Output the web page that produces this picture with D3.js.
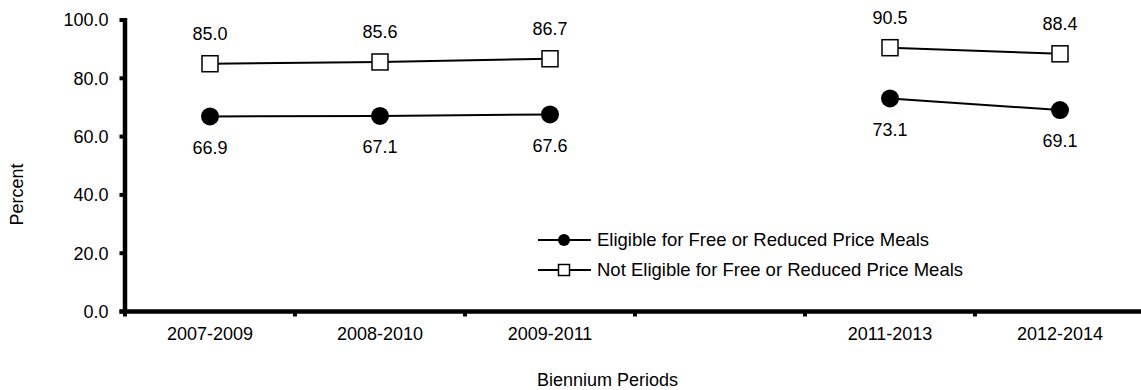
<!DOCTYPE html>
<html><head><meta charset="utf-8">
<script src="https://cdn.jsdelivr.net/npm/d3@7"></script>
<style>
body{margin:0;background:#fff;}
text{font-family:"Liberation Sans",Arial,sans-serif;fill:#000;}
</style></head>
<body><svg id="c" width="1141" height="390"></svg>
<script>
const categories = ["2007-2009","2008-2010","2009-2011","2010-2012","2011-2013","2012-2014"];
const eligible = [66.9, 67.1, 67.6, null, 73.1, 69.1];
const notEligible = [85.0, 85.6, 86.7, null, 90.5, 88.4];
const yTicks = [0, 20, 40, 60, 80, 100];
const seriesNames = ["Eligible for Free or Reduced Price Meals","Not Eligible for Free or Reduced Price Meals"];
const xLabels = ["2007-2009","2008-2010","2009-2011","","2011-2013","2012-2014"];

const svg = d3.select("#c");
const x = d3.scaleBand().domain(categories).range([125,1145]);
const y = d3.scaleLinear().domain([0,100]).range([311.5,20]);
const cx = c => x(c) + x.bandwidth()/2;

// y axis
svg.append("line").attr("x1",125).attr("x2",125).attr("y1",y(100)-2).attr("y2",y(0)+2).attr("stroke","#000").attr("stroke-width",4.5);
yTicks.forEach(t=>{
  svg.append("line").attr("x1",119.5).attr("x2",125).attr("y1",y(t)).attr("y2",y(t)).attr("stroke","#000").attr("stroke-width",4);
  svg.append("text").attr("x",108.5).attr("y",y(t)).attr("dy","0.35em").attr("text-anchor","end").style("font-size","18px").text(d3.format(".1f")(t));
});
// x axis
svg.append("line").attr("x1",119.5).attr("x2",1141).attr("y1",y(0)).attr("y2",y(0)).attr("stroke","#000").attr("stroke-width",4.5);
categories.forEach((c,i)=>{
  svg.append("line").attr("x1",x(c)).attr("x2",x(c)).attr("y1",y(0)).attr("y2",y(0)+5).attr("stroke","#000").attr("stroke-width",4);
  svg.append("text").attr("x",cx(c)).attr("y",340).attr("text-anchor","middle").style("font-size","18px").text(xLabels[i]);
});

svg.append("text").attr("transform","translate(23,194.5) rotate(-90)").attr("text-anchor","middle").style("font-size","18px").text("Percent");
svg.append("text").attr("x",607.5).attr("y",385.5).attr("text-anchor","middle").style("font-size","18px").text("Biennium Periods");

function drawSeries(vals, type, labelOffset){
  const pts = categories.map((c,i)=>({c, v: vals[i]}));
  const line = d3.line().defined(d=>d.v!=null).x(d=>cx(d.c)).y(d=>y(d.v));
  svg.append("path").attr("d",line(pts)).attr("fill","none").attr("stroke","#000").attr("stroke-width",2);
  pts.filter(d=>d.v!=null).forEach(d=>{
    if(type==="circle"){
      svg.append("circle").attr("cx",cx(d.c)).attr("cy",y(d.v)).attr("r",9).attr("fill","#000");
    } else {
      svg.append("rect").attr("x",cx(d.c)-8).attr("y",y(d.v)-8).attr("width",16).attr("height",16).attr("fill","#fff").attr("stroke","#000").attr("stroke-width",1.5);
    }
    svg.append("text").attr("x",cx(d.c)).attr("y",y(d.v)+labelOffset).attr("dy","0.35em").attr("text-anchor","middle").style("font-size","18px").text(d3.format(".1f")(d.v));
  });
}
drawSeries(eligible,"circle",31);
drawSeries(notEligible,"square",-30);

// legend
const leg = [{n:seriesNames[0],t:"circle",y:240},{n:seriesNames[1],t:"square",y:270}];
leg.forEach(l=>{
  svg.append("line").attr("x1",538).attr("x2",591).attr("y1",l.y).attr("y2",l.y).attr("stroke","#000").attr("stroke-width",2);
  if(l.t==="circle") svg.append("circle").attr("cx",564).attr("cy",l.y).attr("r",6).attr("fill","#000");
  else svg.append("rect").attr("x",558.5).attr("y",l.y-5.5).attr("width",11).attr("height",11).attr("fill","#fff").attr("stroke","#000").attr("stroke-width",1.5);
  svg.append("text").attr("x",597).attr("y",l.y).attr("dy","0.35em").style("font-size","18.5px").text(l.n);
});
</script></body></html>
